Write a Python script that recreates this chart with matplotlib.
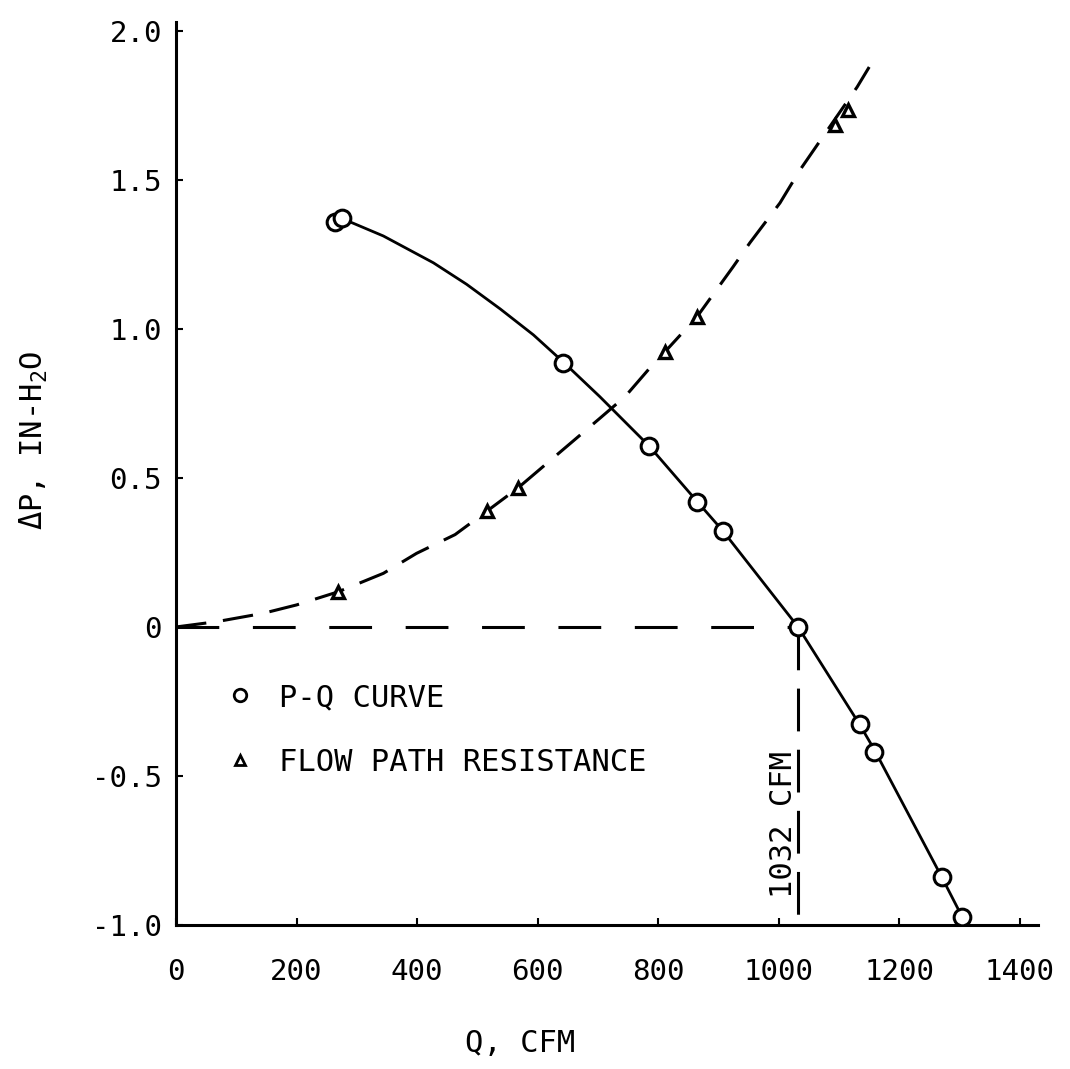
import numpy as np
import matplotlib
matplotlib.use('Agg')
import matplotlib.pyplot as plt
from matplotlib.lines import Line2D

# P-Q curve test points (Q in CFM, dP in in H2O)
pq_q = [264, 275, 642, 785, 865, 907, 1032, 1134, 1158, 1270, 1304]
pq_dp = [1.360, 1.371, 0.886, 0.607, 0.420, 0.323, 0.0, -0.327, -0.418, -0.838, -0.972]

# hand drawn P-Q line
pq_line_q = [275, 344, 427, 482, 538, 593, 642, 703, 785, 865, 907, 1032, 1134, 1158, 1270, 1304]
pq_line_dp = [1.371, 1.312, 1.222, 1.150, 1.067, 0.980, 0.890, 0.773, 0.607, 0.420, 0.323,
              0.0, -0.327, -0.410, -0.838, -0.972]

# flow path resistance points
fr_q = [269, 516, 567, 811, 864, 1093, 1115]
fr_dp = [0.118, 0.389, 0.466, 0.923, 1.040, 1.685, 1.735]

# dashed resistance line
fr_line_q = [0, 68, 145, 200, 269, 344, 399, 463, 516, 567, 703, 745, 786, 811, 864,
             924, 952, 1002, 1035, 1130, 1150]
fr_line_dp = [0, 0.018, 0.046, 0.074, 0.118, 0.180, 0.247, 0.31, 0.389, 0.466, 0.700,
              0.773, 0.869, 0.923, 1.040, 1.208, 1.289, 1.423, 1.533, 1.812, 1.879]

# operating point
op_q = 1032
op_dp = 0.0

xticks = [0, 200, 400, 600, 800, 1000, 1200, 1400]
yticks = [-1.0, -0.5, 0, 0.5, 1.0, 1.5, 2.0]
ytick_labels = ['-1.0', '-0.5', '0', '0.5', '1.0', '1.5', '2.0']

plt.rcParams['font.family'] = ['DejaVu Sans Mono']
plt.rcParams['mathtext.fontset'] = 'custom'
plt.rcParams['mathtext.rm'] = 'DejaVu Sans Mono'

fig = plt.figure(figsize=(10.7, 10.69), dpi=100)
ax = fig.add_axes([176/1070, 144/1069, 862/1070, 903/1069])

ax.plot(pq_line_q, pq_line_dp, color='black', lw=2.0, zorder=2)
ax.plot(fr_line_q, fr_line_dp, color='black', lw=2.2, dashes=(10, 5.5), zorder=2)
ax.plot([0, op_q], [op_dp, op_dp], color='black', lw=2.2, dashes=(14, 11), zorder=2)
ax.plot([op_q, op_q], [op_dp, -1.0], color='black', lw=2.2, dashes=(14, 6), zorder=2)

ax.plot(pq_q, pq_dp, ls='none', marker='o', ms=12, mfc='white', mec='black', mew=2.2, zorder=3)
ax.plot(fr_q, fr_dp, ls='none', marker='^', ms=8, mfc='white', mec='black', mew=2.4, zorder=3)

ax.text(op_q, -0.664, '%d CFM' % op_q, rotation=90, ha='right', va='center', fontsize=22)

handles = [Line2D([], [], ls='none', marker='o', ms=9, mfc='white', mec='black', mew=2),
           Line2D([], [], ls='none', marker='^', ms=7, mfc='white', mec='black', mew=2)]
ax.legend(handles, ['P-Q CURVE', 'FLOW PATH RESISTANCE'], loc='upper left',
          bbox_to_anchor=(0.057, 0.268), frameon=False, borderpad=0, borderaxespad=0,
          handlelength=1.0, handletextpad=0.75, labelspacing=1.18, prop={'size': 22})

ax.set_xlim(0, 1430)
ax.set_ylim(-1.0, 2.03)
ax.set_xticks(xticks)
ax.set_yticks(yticks)
ax.set_yticklabels(ytick_labels)
ax.tick_params(direction='in', length=5, width=1.5, labelsize=21)
ax.tick_params(axis='x', pad=24)
ax.tick_params(axis='y', pad=10)

for s in ['top', 'right']:
    ax.spines[s].set_visible(False)
for s in ['left', 'bottom']:
    ax.spines[s].set_linewidth(2.2)

ax.set_xlabel('Q, CFM', fontsize=22)
ax.xaxis.set_label_coords(0.399, -0.115)
ax.set_ylabel(r'ΔP, IN-H$_\mathrm{2}$O', fontsize=22)
ax.yaxis.set_label_coords(-0.146, 0.537)

plt.savefig('out.png', dpi=100)
